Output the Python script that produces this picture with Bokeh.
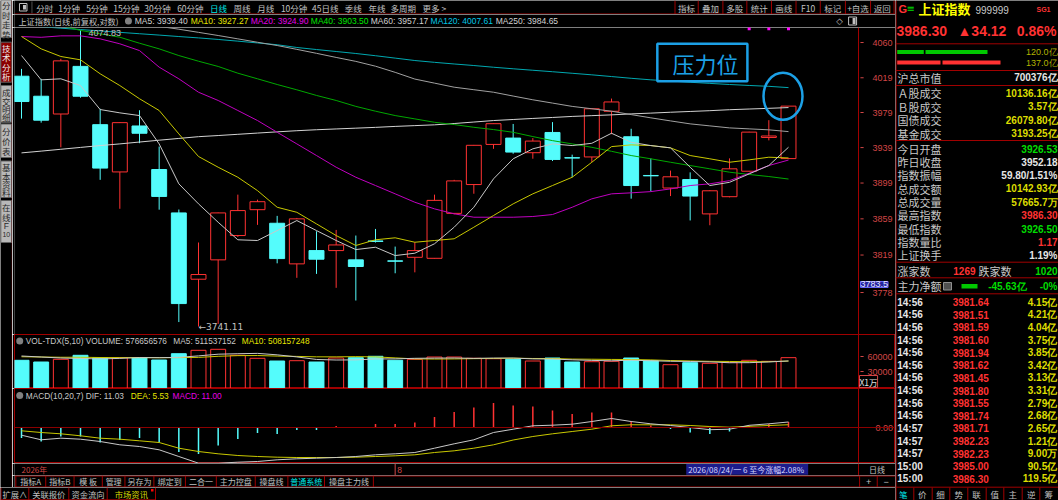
from bokeh.plotting import figure
from bokeh.layouts import row, column
from bokeh.models import Range1d, Label, ColumnDataSource, Span
from bokeh.core.properties import value
from bokeh.embed import file_html
from bokeh.resources import INLINE

# ---------------- data ----------------
opens = [4020.8, 3997.7, 3977.3, 4032.2, 3965.1, 3911.5, 3963.6, 3914.2, 3865.6, 3792.5,
         3813.7, 3840.5, 3869.2, 3854.1, 3809.3, 3823.9, 3823.9, 3813.7, 3834.5, 3812.6,
         3816.5, 3815.4, 3865.1, 3897.3, 3942.6, 3949.8, 3933.2, 3956.2, 3927.5, 3928.4,
         3980.4, 3951.3, 3907.5, 3893.4, 3902.9, 3864.5, 3883.7, 3912.3, 3950.5, 3926.53]
highs = [4029.3, 4017.8, 4041.0, 4074.83, 3983.3, 3968.0, 3981.6, 3940.2, 3869.4, 3832.8,
         3866.0, 3886.0, 3880.4, 3862.3, 3860.0, 3845.2, 3846.7, 3840.5, 3847.8, 3828.3,
         3833.1, 3886.0, 3902.6, 3942.0, 3966.5, 3965.9, 3949.8, 3968.0, 3931.0, 3984.0,
         3995.0, 3960.4, 3926.8, 3913.0, 3911.0, 3891.0, 3926.8, 3957.0, 3970.2, 3986.30]
lows = [3972.0, 3967.4, 3939.3, 3996.0, 3902.6, 3870.2, 3944.0, 3869.2, 3746.0, 3741.11,
        3744.0, 3839.0, 3852.3, 3809.9, 3794.0, 3798.3, 3783.1, 3769.3, 3832.8, 3799.0,
        3800.0, 3815.0, 3864.0, 3887.0, 3937.6, 3932.0, 3926.4, 3923.8, 3905.5, 3922.7,
        3954.3, 3881.5, 3889.6, 3884.4, 3857.2, 3851.9, 3883.0, 3912.0, 3947.2, 3926.50]
closes = [3991.6, 3970.2, 4038.6, 3997.7, 3915.8, 3967.4, 3955.3, 3884.0, 3766.0, 3797.6,
          3865.6, 3868.2, 3878.1, 3815.1, 3859.0, 3814.4, 3830.1, 3806.4, 3834.0, 3812.2,
          3823.9, 3879.6, 3901.4, 3941.6, 3966.2, 3933.9, 3946.4, 3925.6, 3927.2, 3983.3,
          3991.1, 3896.2, 3907.1, 3906.0, 3884.4, 3890.3, 3915.0, 3956.6, 3952.18, 3986.30]

ma5 = [4044.8, 4016.6, 4017.8, 4010.0, 3982.4, 3978.6, 3975.5, 3943.2, 3898.1, 3875.7,
       3855.2, 3835.8, 3835.0, 3846.0, 3857.1, 3846.0, 3835.0, 3825.0, 3827.6, 3818.4,
       3821.0, 3831.4, 3849.7, 3871.9, 3903.7, 3926.3, 3937.6, 3943.2, 3941.3, 3943.9,
       3955.3, 3945.0, 3941.3, 3938.7, 3916.8, 3896.2, 3899.8, 3909.3, 3918.7, 3939.40]
ma10 = [4067.0, 4052.6, 4043.7, 4039.8, 4023.6, 4010.0, 3994.8, 3981.3, 3954.6, 3928.9,
        3916.8, 3905.5, 3890.5, 3871.9, 3866.3, 3853.4, 3840.5, 3829.5, 3835.8, 3838.0,
        3833.1, 3835.0, 3836.9, 3849.7, 3862.7, 3875.7, 3886.9, 3896.2, 3905.5, 3922.4,
        3940.1, 3942.1, 3941.3, 3938.7, 3930.0, 3926.3, 3922.4, 3925.1, 3928.1, 3927.27]
ma20 = [4067.0, 4066.1, 4067.8, 4067.8, 4064.3, 4058.5, 4050.6, 4031.3, 4017.8, 4002.3,
        3992.8, 3981.3, 3969.8, 3956.4, 3943.2, 3930.0, 3916.8, 3905.5, 3896.2, 3886.9,
        3877.5, 3870.1, 3864.6, 3860.8, 3860.8, 3860.8, 3861.6, 3863.8, 3871.9, 3881.3,
        3886.9, 3888.0, 3889.4, 3892.4, 3896.2, 3898.1, 3901.7, 3910.0, 3918.7, 3924.90]
ma40 = [4088.2, 4084.7, 4080.0, 4074.1, 4070.2, 4066.2, 4059.2, 4052.6, 4044.8, 4038.2,
        4032.1, 4024.3, 4017.8, 4011.2, 4005.1, 3998.6, 3992.8, 3986.0, 3980.5, 3975.5,
        3971.7, 3967.8, 3965.2, 3962.1, 3959.5, 3956.4, 3951.5, 3946.9, 3943.2, 3939.3,
        3934.8, 3930.0, 3926.3, 3922.4, 3918.7, 3915.0, 3911.2, 3908.6, 3906.3, 3903.50]
ma60 = [4107.0, 4103.0, 4099.0, 4095.0, 4091.0, 4087.0, 4083.0, 4079.0, 4075.6, 4071.9,
        4068.2, 4064.3, 4060.3, 4056.5, 4052.0, 4047.4, 4042.6, 4038.0, 4032.4, 4025.3,
        4017.5, 4012.8, 4008.1, 4005.2, 4002.3, 3997.9, 3993.6, 3989.8, 3986.0, 3983.3,
        3980.5, 3976.6, 3972.9, 3969.4, 3966.0, 3963.7, 3961.4, 3960.3, 3959.2, 3957.17]
ma120 = [4080.1, 4078.5, 4076.8, 4075.2, 4073.6, 4071.9, 4070.3, 4068.7, 4067.0, 4065.4,
         4063.6, 4061.6, 4059.5, 4057.4, 4054.2, 4051.8, 4049.5, 4047.2, 4044.6, 4041.8,
         4039.0, 4036.9, 4035.0, 4033.2, 4031.2, 4029.4, 4027.7, 4026.0, 4024.2, 4022.4,
         4020.4, 4018.4, 4016.6, 4015.2, 4013.8, 4012.5, 4011.2, 4010.1, 4009.1, 4007.61]
ma250 = [3933.0, 3935.0, 3937.1, 3939.2, 3941.3, 3943.2, 3945.3, 3947.4, 3949.4, 3951.4,
         3952.7, 3954.1, 3955.5, 3956.9, 3958.2, 3959.3, 3960.2, 3961.1, 3962.0, 3963.1,
         3964.0, 3964.9, 3966.4, 3968.1, 3969.8, 3971.0, 3972.2, 3973.3, 3974.5, 3975.4,
         3976.3, 3977.4, 3978.3, 3979.3, 3980.2, 3981.1, 3982.2, 3983.0, 3983.8, 3984.65]
ma_names = ["MA5", "MA10", "MA20", "MA40", "MA60", "MA120", "MA250"]

volumes = [52400, 49000, 54400, 62400, 57600, 57600, 57600, 53000, 65600, 72400,
           74400, 62400, 56400, 51000, 51600, 49000, 57000, 57600, 60400, 52400,
           54400, 59000, 59000, 56400, 55600, 54400, 51000, 57000, 49000, 49600,
           50400, 57000, 51600, 43600, 47600, 46400, 48400, 52400, 50400, 57665.7]  # x1万
vol_ma5 = [61000, 59000, 57000, 56000, 55160, 56200, 57920, 57640, 58280, 61240,
           64600, 65560, 66240, 63320, 59160, 54080, 53000, 53240, 55120, 55280,
           56360, 56760, 57040, 56240, 56880, 56880, 55280, 54880, 53400, 52200,
           51400, 52600, 51520, 50440, 50040, 49240, 47520, 47680, 49040, 51153.7]
vol_ma10 = [59500, 59000, 58500, 58500, 58000, 57800, 57800, 57500, 57800, 58200,
            60400, 61740, 61940, 60800, 60200, 59340, 59280, 59740, 59220, 57220,
            55220, 54880, 55140, 55680, 56080, 56620, 56020, 55960, 54820, 54540,
            54140, 53940, 53200, 51920, 51120, 50320, 50060, 49600, 49740, 50815.7]

dif = [-15.4, -24.6, -21.4, -23.4, -28.0, -34.6, -38.0, -44.6, -58.0, -71.4,
       -71.4, -69.4, -68.0, -64.6, -62.6, -61.4, -60.0, -58.0, -54.6, -52.6,
       -50.0, -41.4, -32.6, -24.6, -10.0, -3.4, 3.4, 4.6, 6.6, 12.0,
       18.0, 12.0, 7.4, 4.0, 0.0, -4.4, -3.4, 4.4, 7.4, 11.03]
dea = [-6.6, -10.0, -12.6, -16.6, -21.4, -23.4, -26.6, -30.0, -41.4, -48.0,
       -52.6, -56.0, -58.0, -59.4, -60.0, -60.0, -60.0, -59.4, -58.0, -56.6,
       -54.6, -50.0, -46.6, -41.4, -34.6, -25.0, -18.0, -12.6, -8.0, -3.4,
       3.4, 5.5, 5.4, 5.4, 4.0, 2.0, 0.6, 2.4, 4.0, 5.53]
macd = [-21, -28, -18, -18, -30, -25, -21, -30, -49, -53,
        -36, -23, -11, -13, -5, -5, 3, 1, 7, 7,
        10, 21, 31, 40, 49, 44, 42, 34, 27, 30,
        30, 13, 4, -3, -10, -13, -8, 4, 7, 11.00]

price_ticks = [3778, 3819, 3859, 3899, 3939, 3979, 4019, 4060]
vol_ticks = [30000, 60000]
macd_ticks = [0.0]
signal_idx = [37, 38, 39]
year_label, year_idx = "2026年", 0
month_label, month_idx = "8", 19
cursor_idx, cursor_text, cursor_price = 34, "2026/08/24/一 6 至今涨幅2.08%", 3783.5
vol_text = "VOL-TDX(5,10) VOLUME: 576656576"
vol_ma_texts = ["MA5: 511537152", "MA10: 508157248"]
macd_texts = ["MACD(10,20,7) DIF: 11.03", "DEA: 5.53", "MACD: 11.00"]
annotation_text = "压力位"

period_tabs = ["分时", "1分钟", "5分钟", "15分钟", "30分钟", "60分钟", "日线", "周线", "月线",
               "10分钟", "45日线", "季线", "年线", "多周期", "更多 >"]
top_buttons = ["指标", "叠加", "多股", "统计", "画线", "F10", "标记", "+自选", "返回"]
bottom_tabs1 = ["指标A", "指标B", "模 板", "管理", "另存为", "绑定到", "二合一", "主力控盘",
                "操盘线", "普通系统", "操盘主力线"]
bottom_tabs2 = ["扩展∧", "关联报价", "资金流向", "市场资讯"]
side_tabs = [["分", "时", "走", "势"], ["技", "术", "分", "析"], ["成", "交", "明", "细"],
             ["分", "价", "表"], ["基", "本", "资", "料"], ["在", "线", "F", "10"]]
panel_tabs = ["笔", "价", "细", "势", "联", "值", "主", "逆", "筹"]

quote_name, quote_code = "上证指数", "999999"
quote_last, quote_chg, quote_pct = "3986.30", "▲34.12", "0.86%"
flow_vals = ["120.0亿", "137.0亿"]
mkt_cap = ("沪总市值", "700376亿")
stats1_labels = ["Ａ股成交", "Ｂ股成交", "国债成交", "基金成交"]
stats1_values = ["10136.16亿", "3.57亿", "26079.80亿", "3193.25亿"]
stats2_labels = ["今日开盘", "昨日收盘", "指数振幅", "总成交额", "总成交量", "最高指数",
                 "最低指数", "指数量比", "上证换手"]
stats2_values = ["3926.53", "3952.18", "59.80/1.51%", "10142.93亿", "57665.7万", "3986.30",
                 "3926.50", "1.17", "1.19%"]
adv_dec = ("涨家数", "1269", "跌家数", "1020")
main_flow = ("主力净额", "-45.63亿", "-0%")
tick_times = ["14:56"] * 10 + ["14:57"] * 3 + ["15:00"] * 2
tick_prices = ["3981.64", "3981.51", "3981.59", "3981.60", "3981.94", "3981.62", "3981.45",
               "3981.80", "3981.55", "3981.74", "3981.71", "3982.23", "3982.23", "3985.00", "3986.30"]
tick_vols = ["4.15亿", "4.21亿", "4.04亿", "3.75亿", "3.85亿", "3.42亿", "3.13亿", "3.31亿",
             "2.79亿", "2.68亿", "2.65亿", "1.21亿", "9.00万", "90.5亿", "119.5亿"]

# ---------------- style ----------------
BG = "#000000"
LINE = "#a00000"
AXR = "#d24646"
UP = "#ff3232"
DN = "#54fcfc"
GT = "#c0c0c0"
WT = "#e6e6e6"
YL = "#dcdc00"
GN = "#00dc00"
BLUE = "#1ca0e6"
CJK = "Noto Sans CJK SC"
LAT = "Liberation Sans"
ma_line_colors = ["#c8c8c8", "#c8c800", "#c000c0", "#00a800", "#a0a0a0", "#00a8b0", "#d2d2d2"]
ma_text_colors = ["#d2d2d2", "#e6e600", "#e600e6", "#00e600", "#d2d2d2", "#00c8e6", "#d2d2d2"]


def base(w, h, mbl=0, **kw):
    f = figure(width=w, height=h, toolbar_location=None, output_backend="svg",
               min_border_left=mbl, min_border_right=0, min_border_top=0,
               min_border_bottom=0, x_axis_location=None, y_axis_location=None, **kw)
    f.background_fill_color = BG
    f.border_fill_color = BG
    f.outline_line_color = None
    f.xgrid.visible = False
    f.ygrid.visible = False
    f.xgrid.grid_line_color = None
    f.ygrid.grid_line_color = None
    return f


def chrome(w, h, x0, x1, y0, y1):
    return base(w, h, x_range=Range1d(x0, x1), y_range=Range1d(y1, y0))


def T(f, x, y, s, color, size=9.0, align="left", font=CJK, bold=False, baseline="middle", xo=0):
    f.text(x=[x], y=[y], text=[s], text_color=color, text_font_size=f"{size}px",
           text_align=align, text_baseline=baseline, text_font=value(font),
           text_font_style=("bold" if bold else "normal"), x_offset=xo)


def H(f, x0, x1, y, color=LINE, w=1):
    f.segment(x0=[x0], y0=[y], x1=[x1], y1=[y], line_color=color, line_width=w)


def V(f, x, y0, y1, color=LINE, w=1):
    f.segment(x0=[x], y0=[y0], x1=[x], y1=[y1], line_color=color, line_width=w)


# ---------------- chart panels (shared index scale) ----------------
n = len(closes)
idx = list(range(n))
SPX = 767.0 / 39.0                 # pixels per bar
XL = -7.0 / SPX                    # frame starts 7px left of the first bar
XR_FULL = XL + 881.0 / SPX         # frame spans the price-scale column too
XAX = 837.0 / SPX                  # right edge of the plotting area
x_rng = Range1d(XL, XR_FULL)


def panel(h, yr, log=False):
    kw = dict(x_range=x_rng, y_range=yr)
    if log:
        kw["y_axis_type"] = "log"
    return base(883, h, mbl=2, **kw)


def price_scale(f, ticks, labels, off):
    f.add_layout(Span(location=XAX, dimension="height", line_color=LINE, line_width=1))
    f.segment(x0=[XAX + 0.1] * len(ticks), y0=ticks, x1=[XAX + 0.26] * len(ticks), y1=ticks,
              line_color=AXR, line_width=1)
    f.text(x=[XAX] * len(ticks), y=ticks, text=labels, x_offset=off, text_color=AXR,
           text_font_size="9px", text_font=value(LAT), text_align="left", text_baseline="middle")


main = panel(307, Range1d(3732.6, 4077.6), log=True)
price_scale(main, price_ticks, [f"{t:d}" for t in price_ticks], 14)

up_i = [i for i in idx if closes[i] >= opens[i]]
dn_i = [i for i in idx if closes[i] < opens[i]]
up_src = ColumnDataSource(dict(x=up_i, o=[opens[i] for i in up_i], c=[closes[i] for i in up_i],
                               h=[highs[i] for i in up_i], l=[lows[i] for i in up_i],
                               v=[volumes[i] for i in up_i]))
dn_src = ColumnDataSource(dict(x=dn_i, o=[opens[i] for i in dn_i], c=[closes[i] for i in dn_i],
                               h=[highs[i] for i in dn_i], l=[lows[i] for i in dn_i],
                               v=[volumes[i] for i in dn_i]))
BW = 0.76
main.segment(x0="x", y0="c", x1="x", y1="h", source=up_src, line_color=UP, line_width=1)
main.segment(x0="x", y0="l", x1="x", y1="o", source=up_src, line_color=UP, line_width=1)
main.vbar(x="x", width=BW, top="c", bottom="o", source=up_src, fill_alpha=0, line_color=UP, line_width=1)
main.segment(x0="x", y0="h", x1="x", y1="l", source=dn_src, line_color=DN, line_width=1)
main.vbar(x="x", width=BW, top="o", bottom="c", source=dn_src, fill_color=DN, line_color=DN, line_width=1)

for ser, col in zip([ma250, ma120, ma60, ma40, ma20, ma10, ma5],
                    [ma_line_colors[6], ma_line_colors[5], ma_line_colors[4], ma_line_colors[3],
                     ma_line_colors[2], ma_line_colors[1], ma_line_colors[0]]):
    main.line(idx, ser, line_color=col, line_width=1)

hi_i = highs.index(max(highs))
lo_i = lows.index(min(lows))
main.text(x=[hi_i], y=[highs[hi_i]], text=[f"{highs[hi_i]:.2f}"], text_color=GT, text_font_size="9px",
          text_font=value(LAT), text_align="left", text_baseline="top", x_offset=8)
main.text(x=[lo_i], y=[lows[lo_i]], text=[f"←{lows[lo_i]:.2f}"], text_color=GT, text_font_size="9px",
          text_font=value("DejaVu Sans"), text_align="left", text_baseline="middle")
main.scatter(x=signal_idx, y=[4076.0] * len(signal_idx), marker="square", size=3,
             fill_color="#ff00ff", line_color=None)

# annotation drawn on the chart
main.quad(left=[32.33], right=[36.91], top=[4058.5], bottom=[4015.0], fill_color=None,
          line_color=BLUE, line_width=2.5)
main.text(x=[33.1], y=[4036.7], text=[annotation_text], text_color=BLUE, text_font_size="22px",
          text_font=value(CJK), text_align="left", text_baseline="middle")
main.ellipse(x=[38.72], y=[3997.7], width=39, height=47, width_units="screen",
             height_units="screen", fill_color=None, line_color=BLUE, line_width=2.5)
main.add_layout(Label(x=XAX, y=cursor_price, x_offset=2, text=f"{cursor_price:.1f}", text_font=LAT,
                      text_font_size="9px", text_color="#e8e8ff", text_baseline="bottom",
                      background_fill_color="#2424a0", border_line_color="#6a6aff"))

# volume
VOL_LO, VOL_HI = -4000, 104000
vol = panel(54, Range1d(VOL_LO, VOL_HI))
vol.outline_line_color = LINE
price_scale(vol, vol_ticks, [f"{t:d}" for t in vol_ticks], 9)
vol.vbar(x="x", width=BW, top="v", bottom=VOL_LO, source=up_src, fill_alpha=0, line_color=UP, line_width=1)
vol.vbar(x="x", width=BW, top="v", bottom=VOL_LO, source=dn_src, fill_color=DN, line_color=DN, line_width=1)
vol.line(idx, vol_ma10, line_color="#c8c800", line_width=1)
vol.line(idx, vol_ma5, line_color="#c8c8c8", line_width=1)
vol.scatter(x=[-0.09], y=[91000], size=7, marker="circle", fill_color="#808080", line_color=None)
vol.text(x=[0.22, 7.72, 11.2], y=[91000] * 3, text=[vol_text] + vol_ma_texts,
         text_color=["#c8c8c8", "#c8c8c8", "#e6e600"], text_font_size="8.3px",
         text_font=value(LAT), text_align="left", text_baseline="middle")
vol.add_layout(Label(x=XAX, y=VOL_LO, x_offset=1, y_offset=1, text="X1万", text_font=CJK,
                     text_font_size="8.5px", text_color="#e0e0e0", text_baseline="bottom",
                     border_line_color=AXR))

# macd
md = panel(75, Range1d(-72, 78))
md.outline_line_color = LINE
price_scale(md, macd_ticks, [f"{t:.2f}" for t in macd_ticks], 17)
md.add_layout(Span(location=0, dimension="width", line_color="#8c0000", line_width=1))
pos_i = [i for i in idx if macd[i] >= 0]
neg_i = [i for i in idx if macd[i] < 0]
md.segment(x0=pos_i, y0=[0] * len(pos_i), x1=pos_i, y1=[macd[i] for i in pos_i], line_color=UP, line_width=1.5)
md.segment(x0=neg_i, y0=[0] * len(neg_i), x1=neg_i, y1=[macd[i] for i in neg_i], line_color=DN, line_width=1.5)
md.line(idx, dea, line_color="#c8c800", line_width=1)
md.line(idx, dif, line_color="#c8c8c8", line_width=1)
md.scatter(x=[-0.09], y=[64], size=7, marker="circle", fill_color="#808080", line_color=None)
md.text(x=[0.22, 5.56, 7.68], y=[64] * 3, text=macd_texts,
        text_color=["#c8c8c8", "#e6e600", "#e600e6"], text_font_size="8.3px",
        text_font=value(LAT), text_align="left", text_baseline="middle")

# date strip
ds = base(883, 12, mbl=2, x_range=x_rng, y_range=Range1d(0, 1))
ds.add_layout(Span(location=XAX, dimension="height", line_color=LINE, line_width=1))
T(ds, year_idx, 0.5, year_label, AXR, 8)
V(ds, month_idx, 0, 1, AXR)
T(ds, month_idx, 0.5, month_label, AXR, 8.5, font=LAT, xo=2)
ds.quad(left=[cursor_idx - 0.2], right=[cursor_idx + 6.0], top=[0.96], bottom=[0.06],
        fill_color="#1c1c8c", line_color=None)
T(ds, cursor_idx - 0.1, 0.5, cursor_text, "#d8d8ff", 8)
T(ds, 43.5, 0.5, "日线", GT, 8, "center")

# ---------------- chrome ----------------
# toolbar
tb = chrome(883, 14, 12, 895, 0, 14)
tb.quad(left=[17], right=[24.5], top=[3], bottom=[10.5], fill_color=None, line_color=GT)
tb.quad(left=[20.5], right=[23.5], top=[4.5], bottom=[9], fill_color=GT, line_color=None)
V(tb, 29.5, 1, 13, "#505050")
period_x = [33.8, 55.8, 83.8, 110.9, 142, 175, 208, 231.6, 255.2, 279, 310.3, 343, 366.8, 388.8, 421]
for s, x in zip(period_tabs, period_x):
    T(tb, x, 7, s, "#00e6e6" if s == "日线" else GT, 8.5)
seps = [674, 697.3, 722, 746, 770.7, 795.3, 819.6, 844.8, 870, 893.6]
for x in seps:
    V(tb, x, 0, 13.5)
for s, a, b in zip(top_buttons, seps[:-1], seps[1:]):
    T(tb, (a + b) / 2, 7, s, GT, 8.5, "center")
H(tb, 12, 895, 13.5)

# legend strip
lg = chrome(883, 13, 12, 895, 14, 27)
T(lg, 15.9, 20.5, "上证指数(日线,前复权,对数)", GT, 8.2)
lg.scatter(x=[126.2], y=[20.5], size=7, marker="circle", fill_color="#808080", line_color=None)
ma_last = [ma5[-1], ma10[-1], ma20[-1], ma40[-1], ma60[-1], ma120[-1], ma250[-1]]
leg_x = [132.5, 188.6, 248.8, 309, 369, 429, 494.3]
for name, v, col, x in zip(ma_names, ma_last, ma_text_colors, leg_x):
    T(lg, x, 20.5, f"{name}: {v:.2f}", col, 8.5, font=LAT)
T(lg, 839, 20.5, "◇", GT, 8.5, "center", font="DejaVu Sans")
lg.quad(left=[848], right=[856], top=[16.5], bottom=[24.5], fill_color=None, line_color=GT)
lg.quad(left=[852], right=[855], top=[17.5], bottom=[23.5], fill_color=GT, line_color=None)

# bottom tabs row 1
tr = chrome(883, 12, 12, 895, 475, 487)
H(tr, 12, 895, 475.5)
H(tr, 12, 895, 486.5)
tab_edges = [13.3, 43.3, 71.7, 100, 122.7, 151.7, 183.3, 214.3, 253.3, 286, 322.7, 371.7]
for x in tab_edges:
    V(tr, x, 475, 487)
for s, a, b in zip(bottom_tabs1, tab_edges[:-1], tab_edges[1:]):
    T(tr, (a + b) / 2, 481, s, "#00e6e6" if s == "普通系统" else GT, 8, "center")
V(tr, 859, 475, 487)
V(tr, 876.7, 475, 487)
T(tr, 868, 481, "+", GT, 9, "center", font=LAT)
T(tr, 885.5, 481, "−", GT, 9, "center", font=LAT)

# bottom tabs row 2
br = chrome(895, 13, 0, 895, 487, 500)
edges2 = [0.5, 28.3, 68.3, 106.7, 155]
for x in edges2:
    V(br, x, 487, 500)
H(br, 0, 155, 499.3)
for s, a, b in zip(bottom_tabs2, edges2[:-1], edges2[1:]):
    T(br, (a + b) / 2, 493.5, s, YL if s == "市场资讯" else GT, 8.3, "center")
br.quad(left=[150.5], right=[153], top=[488.5], bottom=[491], fill_color="#ff0000", line_color=None)

# left sidebar
side = chrome(12, 487, 0, 12, 0, 487)
tab_spans = [(-1, 37), (41.7, 81.7), (85, 121.7), (123.5, 157), (160.5, 197), (200, 242)]
char_ys = [[4.5, 14, 23.5, 33], [47, 56.5, 66, 75.5], [91.7, 100, 108.3, 116.7],
           [130, 140, 150], [166.7, 175, 183.3, 191.7], [206.7, 216.7, 225, 234]]
for k, (chars, (a, b), ys) in enumerate(zip(side_tabs, tab_spans, char_ys)):
    active = (k == 1)
    side.quad(left=[0.3], right=[11.2], top=[a], bottom=[b],
              fill_color="#8c0000" if active else "#b8b8b8", line_color="#606060")
    for ch, yy in zip(chars, ys):
        T(side, 5.8, yy, ch, "#f0f0f0" if active else "#282828",
          7.0 if ch == "10" else 8.5, "center", font=(LAT if ch in ("F", "10") else CJK))
V(side, 11.8, 0, 487)

# right panel
rp = chrome(163, 500, 895, 1058, 0, 500)
V(rp, 895.6, 0, 500)
T(rp, 898, 8, "G", UP, 11, font=LAT, bold=True)
T(rp, 906, 8, "≡", GN, 10, font="DejaVu Sans")
T(rp, 918, 8, quote_name, "#ffff00", 13, bold=True)
T(rp, 975, 9, quote_code, "#c8c8c8", 10, font=LAT)
T(rp, 1036, 9, "SG1", UP, 7, font=LAT, bold=True)
T(rp, 896, 30, quote_last, UP, 14, font=LAT, bold=True)
T(rp, 957, 30, quote_chg, UP, 14, font=LAT, bold=True)
T(rp, 1056, 30, quote_pct, UP, 14, "right", font=LAT, bold=True)
for y in [43.3, 70, 85, 140, 261.7, 277.3, 293.3, 486.7]:
    H(rp, 895, 1058, y)
rp.quad(left=[896.7, 925], right=[923.3, 987], top=[49.5, 49.5], bottom=[53.5, 53.5],
        fill_color="#00c800", line_color=None)
rp.quad(left=[896.7, 942], right=[940, 1000], top=[60, 60], bottom=[64, 64],
        fill_color="#ff3232", line_color=None)
T(rp, 1057, 51.7, flow_vals[0], "#b4b400", 9, "right", font=LAT)
T(rp, 1057, 62.3, flow_vals[1], "#b4b400", 9, "right", font=LAT)
T(rp, 897, 77.3, mkt_cap[0], "#c8c8c8", 11)
T(rp, 1057, 77.3, mkt_cap[1], WT, 10, "right", font=LAT, bold=True)
for lab, val, y in zip(stats1_labels, stats1_values, [92.7, 106.3, 119.8, 133.3]):
    T(rp, 897, y, lab, "#c8c8c8", 11)
    T(rp, 1057, y, val, YL, 10, "right", font=LAT, bold=True)
s2_colors = [GN, WT, WT, YL, YL, UP, GN, UP, WT]
for k, (lab, val, col) in enumerate(zip(stats2_labels, stats2_values, s2_colors)):
    y = 148.3 + k * 13.33
    T(rp, 897, y, lab, "#c8c8c8", 11)
    T(rp, 1057, y, val, col, 10, "right", font=LAT, bold=True)
T(rp, 897, 270, adv_dec[0], "#c8c8c8", 11)
T(rp, 975, 270, adv_dec[1], UP, 10, "right", font=LAT, bold=True)
T(rp, 978, 270, adv_dec[2], "#c8c8c8", 11)
T(rp, 1057, 270, adv_dec[3], GN, 10, "right", font=LAT, bold=True)
T(rp, 897, 285.5, main_flow[0], "#c8c8c8", 11)
rp.quad(left=[943], right=[951], top=[282], bottom=[289.5], fill_color="#505050", line_color="#909090")
rp.quad(left=[961], right=[977], top=[283.5], bottom=[288], fill_color="#00c800", line_color=None)
T(rp, 1026, 285.5, main_flow[1], GN, 10, "right", font=LAT, bold=True)
T(rp, 1057, 285.5, main_flow[2], GN, 10, "right", font=LAT, bold=True)
for k, (tt, pp, vv) in enumerate(zip(tick_times, tick_prices, tick_vols)):
    y = 301.7 + k * 12.62
    T(rp, 896.7, y, tt, WT, 10, font=LAT, bold=True)
    T(rp, 988.3, y, pp, UP, 10, "right", font=LAT, bold=True)
    T(rp, 1056.7, y, vv, YL, 10, "right", font=LAT, bold=True)
ptab_seps = [913.3, 931.7, 949.3, 967.3, 985.7, 1003.3, 1021.7, 1039.3]
for x in ptab_seps:
    V(rp, x, 487, 500)
ptab_x = [902.7, 921.7, 940, 958.3, 976, 994.3, 1012.3, 1030.7, 1048.3]
for s, x in zip(panel_tabs, ptab_x):
    T(rp, x, 493.5, s, "#00e6e6" if s == "笔" else GT, 8.5, "center")

# ---------------- layout ----------------
center = column(tb, lg, main, vol, md, ds, tr, spacing=0)
left = column(row(side, center, spacing=0), br, spacing=0)
page = row(left, rp, spacing=0)

open("out.html", "w").write(file_html(page, INLINE))
